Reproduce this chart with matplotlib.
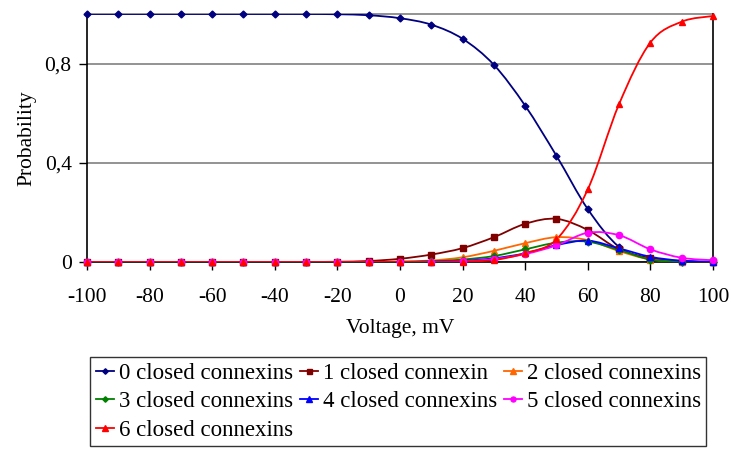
import matplotlib
matplotlib.use("Agg")
import matplotlib.pyplot as plt
from matplotlib.path import Path
from matplotlib.patches import PathPatch
from matplotlib.lines import Line2D

voltage = list(range(-100, 101, 10))

p0 = [1.0, 1.0, 1.0, 1.0, 1.0, 1.0, 1.0, 1.0, 0.999, 0.995, 0.983,
      0.957, 0.90, 0.795, 0.63, 0.428, 0.213, 0.061, 0.012, 0.002, 0.0]
p1 = [0.0, 0.0, 0.0, 0.0, 0.0, 0.0, 0.0, 0.0, 0.001, 0.004, 0.013,
      0.03, 0.056, 0.10, 0.154, 0.174, 0.129, 0.051, 0.016, 0.004, 0.0]
p2 = [0.0, 0.0, 0.0, 0.0, 0.0, 0.0, 0.0, 0.0, 0.0, 0.0, 0.002,
      0.006, 0.019, 0.045, 0.076, 0.10, 0.088, 0.044, 0.01, 0.002, 0.0]
p3 = [0.0, 0.0, 0.0, 0.0, 0.0, 0.0, 0.0, 0.0, 0.0, 0.0, 0.001,
      0.003, 0.01, 0.024, 0.051, 0.078, 0.082, 0.048, 0.01, 0.002, 0.0]
p4 = [0.0, 0.0, 0.0, 0.0, 0.0, 0.0, 0.0, 0.0, 0.0, 0.0, 0.0,
      0.002, 0.005, 0.015, 0.035, 0.068, 0.086, 0.055, 0.021, 0.005, 0.001]
p5 = [0.0, 0.0, 0.0, 0.0, 0.0, 0.0, 0.0, 0.0, 0.0, 0.0, 0.0,
      0.001, 0.003, 0.012, 0.032, 0.067, 0.118, 0.108, 0.051, 0.017, 0.007]
p6 = [0.0, 0.0, 0.0, 0.0, 0.0, 0.0, 0.0, 0.0, 0.0, 0.0, 0.0,
      0.0, 0.002, 0.008, 0.036, 0.091, 0.293, 0.637, 0.885, 0.969, 0.992]

labels = ["0 closed connexins", "1 closed connexin", "2 closed connexins",
          "3 closed connexins", "4 closed connexins", "5 closed connexins",
          "6 closed connexins"]
colors = ["#000080", "#800000", "#FF6600", "#008000", "#0000FF", "#FF00FF", "#FF0000"]
markers = ["D", "s", "^", "D", "^", "o", "^"]
msizes = [3.5, 4.5, 5, 3.5, 5, 4.5, 5]

plt.rcParams["font.family"] = ["Liberation Serif", "DejaVu Serif"]
plt.rcParams["axes.unicode_minus"] = False


def smooth_path(xs, ys):
    # Catmull-Rom through the points, written as cubic Bezier segments
    pts = list(zip(xs, ys))
    verts = [pts[0]]
    codes = [Path.MOVETO]
    n = len(pts)
    for i in range(n - 1):
        pm = pts[i - 1] if i > 0 else pts[i]
        p_a = pts[i]
        p_b = pts[i + 1]
        pp = pts[i + 2] if i + 2 < n else pts[i + 1]
        c1 = (p_a[0] + (p_b[0] - pm[0]) / 6, p_a[1] + (p_b[1] - pm[1]) / 6)
        c2 = (p_b[0] - (pp[0] - p_a[0]) / 6, p_b[1] - (pp[1] - p_a[1]) / 6)
        verts += [c1, c2, p_b]
        codes += [Path.CURVE4] * 3
    return Path(verts, codes)


fig = plt.figure(figsize=(7.31, 4.49), dpi=100)
ax = fig.add_axes([87 / 731, 1 - 262 / 449, (713 - 87) / 731, (262 - 14) / 449])

series = [p0, p1, p2, p3, p4, p5, p6]
handles = []
for vals, c, m, ms, lab in zip(series, colors, markers, msizes, labels):
    ax.add_patch(PathPatch(smooth_path(voltage, vals), fill=False,
                           edgecolor=c, lw=1.3, zorder=3))
    ax.plot(voltage, vals, linestyle="none", marker=m, ms=ms, color=c,
            clip_on=False, zorder=4)
    handles.append(Line2D([], [], color=c, lw=1.3, marker=m, ms=ms * 0.8))

ax.set_xlim(-100, 100)
ax.set_ylim(0, 1.0)
ax.set_xticks(range(-100, 101, 20))
ax.set_yticks([0, 0.4, 0.8])
ax.set_yticklabels(["0", "0,4", "0,8"])
ax.tick_params(axis="both", direction="out", length=6, width=1,
               labelsize=15.5)
ax.tick_params(axis="x", pad=13)
ax.tick_params(axis="y", pad=5)
ax.grid(axis="y", color="#808080", lw=1.2)
ax.axhline(1.0, color="#808080", lw=1.2, clip_on=False)
ax.set_axisbelow(True)
ax.spines["top"].set_visible(False)
for s in ["left", "right", "bottom"]:
    ax.spines[s].set_linewidth(1.2)

ax.set_xlabel("Voltage, mV", fontsize=15.5, labelpad=8)
ax.set_ylabel("Probability", fontsize=15.5, labelpad=6)

# legend entries read across rows, so feed them column by column
order = [0, 3, 6, 1, 4, 2, 5]
leg = fig.legend(handles=[handles[i] for i in order],
                 labels=[labels[i] for i in order], ncol=3,
                 loc="upper left", bbox_to_anchor=(90 / 731, 1 - 357 / 449),
                 fontsize=16.5, frameon=True, fancybox=False, edgecolor="black",
                 handlelength=0.8, handletextpad=0.2, columnspacing=0.3,
                 borderpad=0.25, labelspacing=0.32, borderaxespad=0)
leg.get_frame().set_linewidth(1.0)

fig.savefig("out.png", dpi=100)
